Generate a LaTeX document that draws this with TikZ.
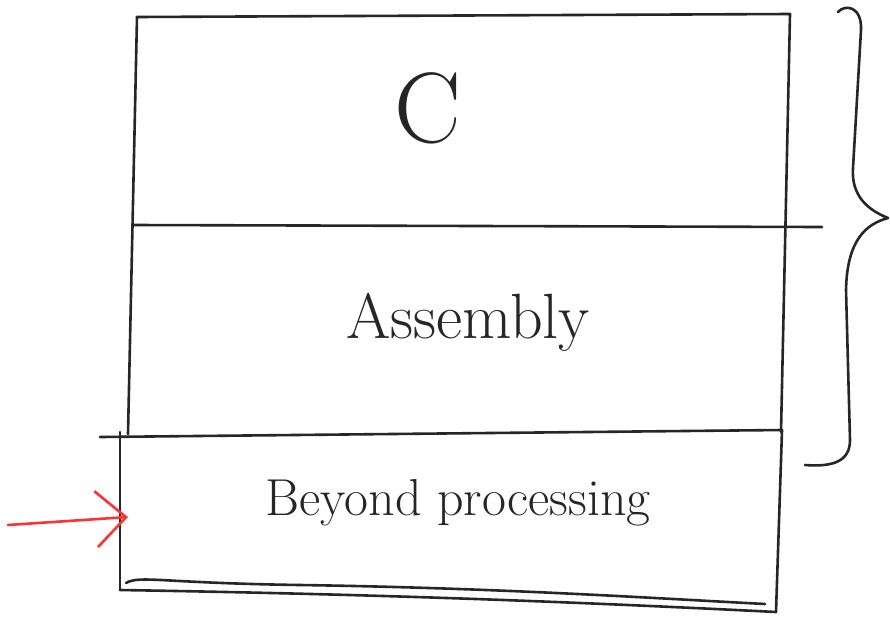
\documentclass[tikz,border=0pt]{standalone}
\usetikzlibrary{arrows.meta}
\begin{document}
\begin{tikzpicture}[x=1pt,y=-1pt,
  ink/.style={line width=2.6pt,draw=black!85,line cap=round,line join=round},
  redink/.style={line width=2.6pt,draw=red!80!white,line cap=round},
  lbl/.style={inner sep=0pt,text=black!85}]
\useasboundingbox (0,0) rectangle (890,624);
% outer upper section
\coordinate (tl) at (137,17);
\coordinate (tr) at (790,14);
\coordinate (bl) at (128,434);
\coordinate (br) at (781,432);
\draw[ink] (tl) -- (tr) -- (br);
\draw[ink] (tl) -- (bl);
% divider between C and Assembly
\coordinate (d1a) at (133,225);
\coordinate (d1b) at (822,227);
\draw[ink] (d1a) -- (d1b);
% bottom box
\coordinate (b1) at (100,437);
\coordinate (b2) at (782,430);
\coordinate (b3) at (776,612);
\coordinate (b4) at (120,590);
\coordinate (b5) at (120,432);
\draw[ink] (b1) -- (b2);
\draw[ink] (b5) -- (b4);
\draw[ink] (b2) -- (b3);
\draw[ink] (b4) .. controls (300,593) and (500,598) .. (b3);
\draw[ink] (126,583) .. controls (140,575) and (160,583) .. (300,585) .. controls (500,588) and (650,598) .. (765,604);
% labels
\node[lbl] (c) at (428,108) {\fontsize{100}{100}\selectfont C};
\node[lbl] (asm) at (468,322) {\fontsize{64}{64}\selectfont Assembly};
\node[lbl] (bp) at (458,503) {\fontsize{52}{52}\selectfont Beyond processing};
% brace
\coordinate (brtop) at (838,12);
\coordinate (brtip) at (888,218);
\coordinate (brbot) at (805,465);
\draw[ink] (brtop) .. controls (845,4) and (862,6) .. (861,30)
  -- (853,168) .. controls (851,196) and (868,210) .. (brtip)
  .. controls (866,224) and (847,240) .. (846,290)
  -- (850,440) .. controls (850,462) and (832,467) .. (brbot);
% red arrow
\coordinate (arrtail) at (8,525);
\coordinate (arrhead) at (128,517);
\draw[redink,-{Straight Barb[length=30pt,width=56pt,line width=2.6pt]}] (arrtail) -- (arrhead);
\end{tikzpicture}
\end{document}
